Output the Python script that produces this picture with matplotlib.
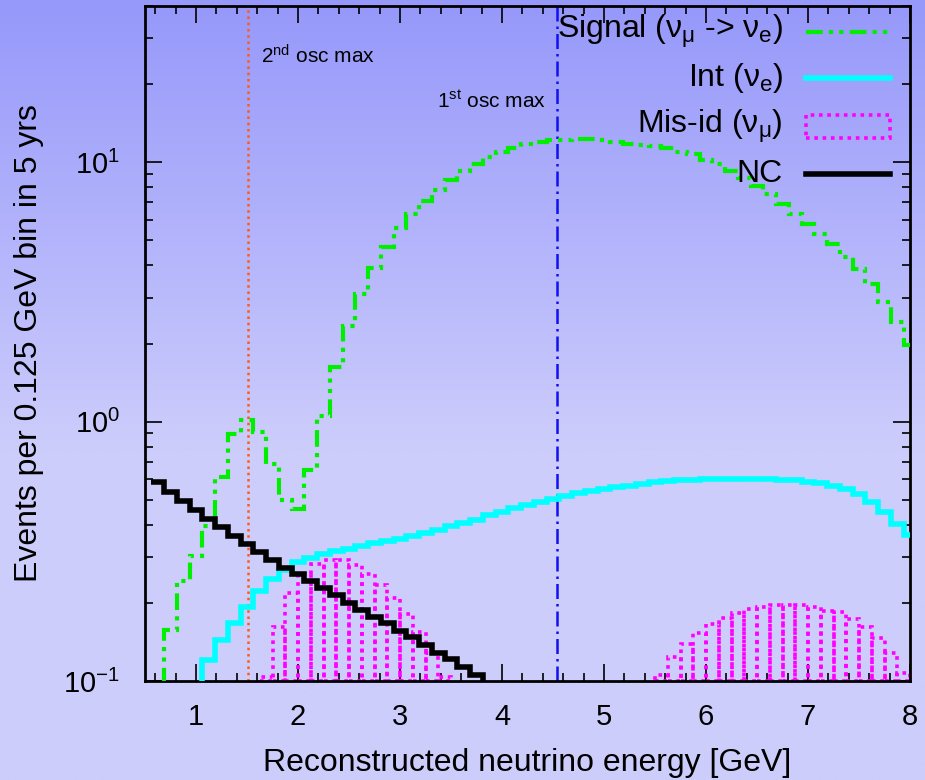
import numpy as np
import matplotlib
matplotlib.use("Agg")
import matplotlib.pyplot as plt
from matplotlib.patches import Rectangle
from matplotlib.ticker import FixedLocator, LogLocator, NullFormatter

plt.rcParams['font.family'] = ['Liberation Sans', 'DejaVu Sans']
plt.rcParams['mathtext.default'] = 'regular'
plt.rcParams['axes.unicode_minus'] = False

# histogram bins, 0.125 GeV wide, first bin centred at 0.625 GeV
bin_width = 0.125
first_edge = 0.5625

# Signal (nu_mu -> nu_e), one value per bin (0.05 = below the plotted range)
signal = [0.05, 0.157, 0.244, 0.303, 0.395, 0.611, 0.897, 1.01,
          0.91, 0.688, 0.497, 0.462, 0.648, 1.055, 1.618, 2.34,
          3.115, 3.92, 4.71, 5.56, 6.33, 7.08, 7.80, 8.53,
          9.24, 9.85, 10.45, 10.96, 11.39, 11.70, 11.97, 12.15,
          12.2, 12.29, 12.25, 12.15, 11.97, 11.80, 11.62, 11.52,
          11.35, 10.96, 10.71, 10.24, 9.80, 9.24, 8.70, 8.09,
          7.51, 6.88, 6.29, 5.79, 5.27, 4.83, 4.31, 3.87,
          3.39, 2.88, 2.42, 1.98]

# Int (nu_e)
intrinsic = [0.05, 0.05, 0.05, 0.05, 0.1205, 0.144, 0.1667, 0.193,
             0.222, 0.248, 0.267, 0.288, 0.299, 0.310, 0.317, 0.324,
             0.331, 0.339, 0.3465, 0.354, 0.361, 0.372, 0.383, 0.395,
             0.406, 0.419, 0.435, 0.449, 0.463, 0.478, 0.491, 0.504,
             0.518, 0.529, 0.540, 0.551, 0.561, 0.567, 0.576, 0.583,
             0.588, 0.593, 0.597, 0.600, 0.602, 0.602, 0.602, 0.602,
             0.600, 0.597, 0.593, 0.586, 0.579, 0.567, 0.551, 0.524,
             0.489, 0.448, 0.404, 0.364]

# NC
nc = [0.584, 0.535, 0.494, 0.455, 0.4225, 0.392, 0.362, 0.336,
      0.314, 0.294, 0.2737, 0.2586, 0.243, 0.2273, 0.2142, 0.200,
      0.1875, 0.1767, 0.1667, 0.156, 0.1473, 0.1375, 0.1285, 0.1212,
      0.1135, 0.1054, 0.05]

# Mis-id (nu_mu), drawn as boxes: left edge of each box and its height
misid_x = [1.625, 1.75, 1.875, 2.0, 2.125, 2.25, 2.375, 2.5, 2.625, 2.75,
           2.875, 3.0, 3.125, 3.25, 3.375,
           5.5, 5.625, 5.75, 5.875, 6.0, 6.125, 6.25, 6.375, 6.5, 6.625,
           6.75, 6.875, 7.0, 7.125, 7.25, 7.375, 7.5, 7.625, 7.75, 7.875]
misid_val = [0.1039, 0.1617, 0.2175, 0.2596, 0.2835, 0.294, 0.292, 0.279,
             0.2596, 0.2355, 0.208, 0.181, 0.1547, 0.1278, 0.1033,
             0.1054, 0.1233, 0.1387, 0.1526, 0.1652, 0.1752, 0.183, 0.189,
             0.193, 0.196, 0.197, 0.196, 0.193, 0.186, 0.1837, 0.174,
             0.1617, 0.146, 0.1278, 0.1076]

osc_max_1 = 4.54
osc_max_2 = 1.513

xmin, xmax = 0.5, 8.0
ymin, ymax = 0.1, 40.0


def edges_for(vals):
    return first_edge + bin_width * np.arange(len(vals) + 1)


fig = plt.figure(figsize=(9.25, 7.8), dpi=100)

# gradient background (blue at top -> pale lavender lower down)
bg = fig.add_axes([0, 0, 1, 1], zorder=-10)
bg.axis('off')
rows = np.clip(np.linspace(0, 780, 400) / 450.0, 0, 1)[:, None]
top = np.array([150, 152, 250]) / 255.0
bot = np.array([205, 205, 252]) / 255.0
grad = top[None, :] + (bot - top)[None, :] * rows
bg.imshow(grad[:, None, :].repeat(2, axis=1), aspect='auto', extent=[0, 1, 0, 1])
bg.set_xlim(0, 1)
bg.set_ylim(0, 1)

ax = fig.add_axes([145 / 925, 1 - 681 / 780, 765 / 925, 675 / 780])
ax.patch.set_alpha(0)

misid_dash = (0, (1, 1.3))
ax.bar(misid_x, np.array(misid_val) - ymin, width=bin_width, align='edge', bottom=ymin,
       fill=False, edgecolor='#ff00ff', linestyle=misid_dash, linewidth=2.6, zorder=2)
sig_dash = (0, (4, 1.5, 1, 1.5, 1, 1.5))
ax.stairs(signal, edges_for(signal), baseline=None, color='#00ee00',
          linestyle=sig_dash, linewidth=3, zorder=3)
ax.stairs(intrinsic, edges_for(intrinsic), baseline=None, color='#00ffff',
          linewidth=4, zorder=3)
ax.stairs(nc, edges_for(nc), baseline=None, color='black', linewidth=4, zorder=4)

ax.axvline(osc_max_2, color='#ff5a1a', linestyle=(0, (1, 1.5)), linewidth=1.8, zorder=1)
ax.axvline(osc_max_1, color='#1010f0', linestyle=(0, (6, 2, 1, 2)), linewidth=1.8, zorder=1)

ax.text(osc_max_2 + 0.12, 25.6, '2$^{nd}$ osc max', fontsize=15, va='center', ha='left')
ax.text(osc_max_1 - 0.11, 17.2, '1$^{st}$ osc max', fontsize=15, va='center', ha='right')

ax.set_yscale('log')
ax.set_xlim(xmin, xmax)
ax.set_ylim(ymin, ymax)

ax.xaxis.set_major_locator(FixedLocator([1, 2, 3, 4, 5, 6, 7, 8]))
ax.xaxis.set_minor_locator(FixedLocator(np.arange(0.6, 8.0, 0.2)))
ax.yaxis.set_major_locator(LogLocator(base=10, numticks=10))
ax.yaxis.set_minor_locator(LogLocator(base=10, subs=np.arange(2, 10), numticks=20))
ax.yaxis.set_minor_formatter(NullFormatter())

ax.tick_params(which='both', direction='in', top=True, right=True, labelsize=21, width=1.2)
ax.tick_params(which='major', length=12, pad=16)
ax.tick_params(which='minor', length=6)
ax.tick_params(axis='y', which='major', pad=18)
for s in ax.spines.values():
    s.set_linewidth(2)

ax.set_xlabel('Reconstructed neutrino energy [GeV]', fontsize=23, labelpad=12)
ax.set_ylabel('Events per 0.125 GeV bin in 5 yrs', fontsize=23, labelpad=14)

# key, gnuplot style: text right aligned, sample on the right
key_labels = ['Signal ($\\nu_\\mu$ -> $\\nu_e$)', 'Int ($\\nu_e$)',
              'Mis-id ($\\nu_\\mu$)', 'NC']
key_y = [0.962, 0.893, 0.822, 0.751]
for lab, yy in zip(key_labels, key_y):
    ax.text(0.834, yy, lab, transform=ax.transAxes, ha='right', va='center', fontsize=23)
ax.plot([0.864, 0.974], [key_y[0]] * 2, transform=ax.transAxes, color='#00ee00',
        linestyle=sig_dash, linewidth=3)
ax.plot([0.864, 0.974], [key_y[1]] * 2, transform=ax.transAxes, color='#00ffff', linewidth=4)
ax.add_patch(Rectangle((0.864, key_y[2] - 0.017), 0.110, 0.034, transform=ax.transAxes,
                       fill=False, edgecolor='#ff00ff', linestyle=misid_dash, linewidth=2.6))
ax.plot([0.864, 0.974], [key_y[3]] * 2, transform=ax.transAxes, color='black', linewidth=4)

fig.savefig('out.png', dpi=100)
